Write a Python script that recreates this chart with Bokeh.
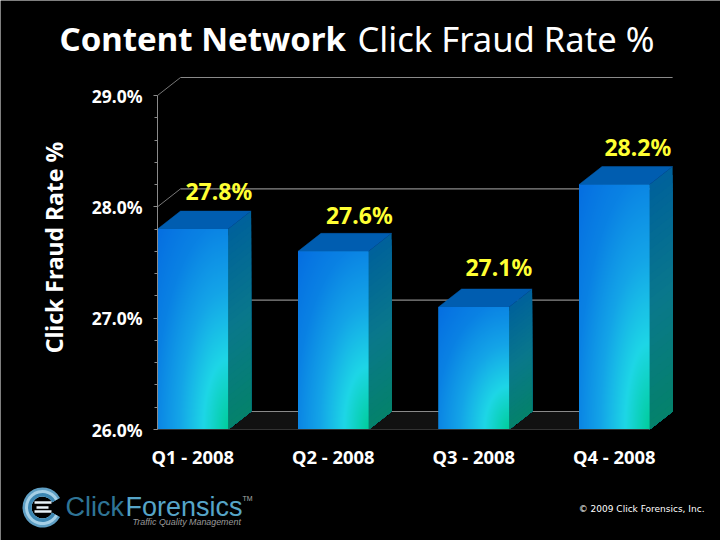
import numpy as np
from bokeh.plotting import figure
from bokeh.models import LinearAxis, FixedTicker, PrintfTickFormatter
from bokeh.core.properties import value
from bokeh.embed import file_html
from bokeh.resources import INLINE

# ---- chart data ----
categories = ["Q1 - 2008", "Q2 - 2008", "Q3 - 2008", "Q4 - 2008"]
rates = [27.8, 27.6, 27.1, 28.2]
rate_labels = ["27.8%", "27.6%", "27.1%", "28.2%"]
major_ticks = [26, 27, 28, 29]
minor_ticks = [26.2, 26.4, 26.6, 26.8, 27.2, 27.4, 27.6, 27.8, 28.2, 28.4, 28.6, 28.8]

# ---- geometry: one unit of x is 140.5 px, one unit of y is 111.33 px ----
PX, PY = 140.5, 111.33
def X(px): return (px - 192.3) / PX
def Y(py): return 26 + (429 - py) / PY
HALF = 35.3 / PX
DX, DY = 23 / PX, 18 / PY
idx = list(range(len(categories)))
FONT = "Noto Sans"
label_nudge_x = [0, 0, -1, -2.5]
label_nudge_y = [38, 36, 40, 38]

p = figure(width=720, height=540, output_backend="svg", toolbar_location=None,
           x_range=(X(0), X(720)), y_range=(Y(540), Y(0)),
           x_axis_type=None, y_axis_type=None, min_border=0,
           background_fill_color="#000000", border_fill_color="#000000",
           outline_line_color=None)
p.grid.visible = False

# floor and back wall
xl, xr = -HALF, 3 + HALF
p.patch([xl, xl + DX, xr + DX, xr], [26, 26 + DY, 26 + DY, 26], color="#111111", line_color=None)
p.segment([xl + DX] * 4, [v + DY for v in major_ticks], [xr + DX] * 4, [v + DY for v in major_ticks],
          line_color="#8a8a8a", line_width=1.2)
p.segment([xl] * 4, major_ticks, [xl + DX] * 4, [v + DY for v in major_ticks],
          line_color="#777777", line_width=1)

# axes, fixed at the chart's origin
yaxis = LinearAxis(fixed_location=xl, bounds=(26, 29),
                   ticker=FixedTicker(ticks=major_ticks, minor_ticks=minor_ticks),
                   formatter=PrintfTickFormatter(format="%.1f%%"))
yaxis.axis_line_color = "#8a8a8a"
yaxis.major_tick_line_color = "#8a8a8a"
yaxis.minor_tick_line_color = "#8a8a8a"
yaxis.major_tick_in = yaxis.minor_tick_in = 0
yaxis.major_tick_out = 4
yaxis.minor_tick_out = 3
yaxis.major_label_standoff = 11
yaxis.major_label_text_color = "#ffffff"
yaxis.major_label_text_font = FONT
yaxis.major_label_text_font_style = "bold"
yaxis.major_label_text_font_size = "17.5px"
p.add_layout(yaxis, "left")

xaxis = LinearAxis(fixed_location=26, bounds=(xl, xr),
                   ticker=FixedTicker(ticks=idx),
                   major_label_overrides={i: c for i, c in zip(idx, categories)})
xaxis.axis_line_color = "#333333"
xaxis.major_tick_line_color = None
xaxis.minor_tick_line_color = None
xaxis.major_label_standoff = 8
xaxis.major_label_text_color = "#ffffff"
xaxis.major_label_text_font = FONT
xaxis.major_label_text_font_style = "bold"
xaxis.major_label_text_font_size = "18.4px"
p.add_layout(xaxis, "below")

# bars
def mix(t, stops):
    ts = [s[0] for s in stops]
    return [np.interp(t, ts, [s[1][k] for s in stops]) for k in range(3)]

FRONT = [(0.0, (0, 205, 155)), (1.0, (30, 215, 230)), (2.0, (20, 165, 232)),
         (3.0, (10, 130, 228)), (4.1, (5, 110, 225))]

for i, v in zip(idx, rates):
    # base bar
    p.vbar(x=[i], top=[v], bottom=26, width=2 * HALF, color="#0f96eb", line_color=None)

    # side face: overlapping strips going down
    n = 30
    ys = np.linspace(v, 26, n + 1)
    xs_side, ys_side, cols = [], [], []
    for k in range(n):
        f = k / (n - 1)
        c = mix(f, [(0, (0, 98, 155)), (0.5, (10, 120, 140)), (1, (5, 130, 108))])
        xs_side.append([i + HALF, i + HALF + DX, i + HALF + DX, i + HALF])
        ys_side.append([ys[k], ys[k] + DY, 26 + DY, 26])
        cols.append("#%02x%02x%02x" % tuple(int(q) for q in c))
    p.patches(xs_side, ys_side, fill_color=cols, line_color=None)

    # top face
    p.patch([i - HALF, i - HALF + DX, i + HALF + DX, i + HALF],
            [v, v + DY, v + DY, v], fill_color="#005db0", line_color="#005db0", line_width=0.5)

    # front face gradient, glowing from the lower right corner (image row 0 is the bottom)
    h = max(2, int(round((v - 26) * PY)))
    w = 71
    uu, vv = np.meshgrid(np.linspace(0, 1, w), np.linspace(1, 0, h))
    d = np.sqrt(((1 - uu) / 0.35) ** 2 + ((1 - vv) / 0.35) ** 2)
    rgb = mix(d, FRONT)
    img = np.zeros((h, w), dtype=np.uint32)
    view = img.view(dtype=np.uint8).reshape((h, w, 4))
    for k in range(3):
        view[:, :, k] = rgb[k].astype(np.uint8)
    view[:, :, 3] = 255
    p.image_rgba(image=[img], x=i - HALF, y=26, dw=2 * HALF, dh=v - 26)

# value labels
p.text(x=[i + 0.185 + nx / PX for i, nx in zip(idx, label_nudge_x)],
       y=[v + ny / PY for v, ny in zip(rates, label_nudge_y)], text=rate_labels,
       text_color="#ffff33", text_font=value(FONT), text_font_style="bold",
       text_font_size="23px", text_align="center", text_baseline="middle")

def txt(px, py, s, size, color="#ffffff", style="normal", font=FONT, align="left", angle=0):
    p.text(x=[X(px)], y=[Y(py)], text=[s], text_color=color, text_font=value(font),
           text_font_style=style, text_font_size=size, text_align=align,
           text_baseline="middle", angle=angle)

# titles
txt(59, 38, "Content Network", "33px", style="bold")
txt(357, 38, "Click Fraud Rate %", "34.6px")
txt(53, 247, "Click Fraud Rate %", "23px", style="bold", align="center", angle=np.pi / 2)

# logo
cx, cy = X(42), Y(507)
for r_out, col in [(20, "#5f9fc4"), (17.5, "#a5cfe6"), (14.5, "#3c86b2")]:
    p.annular_wedge(x=[cx], y=[cy], inner_radius=11, outer_radius=r_out, inner_radius_units="screen",
                    outer_radius_units="screen", start_angle=0.5, end_angle=2 * np.pi - 0.5,
                    fill_color=col, line_color=None)
p.segment([X(34), X(34), X(36)], [Y(502), Y(511), Y(507)], [X(51), X(51), X(48)], [Y(502), Y(511), Y(507)],
          line_color="#e8f2f8", line_width=2.5)
txt(65, 506, "Click", "27px", color="#2f7496", font="Liberation Sans")
txt(125, 506, "Forensics", "27px", color="#56a5c8", font="Liberation Sans")
txt(242, 498, "TM", "7px", color="#aaaaaa", font="Liberation Sans")
txt(132, 521, "Traffic Quality Management", "8.9px", color="#9a9a9a", style="italic", font="Liberation Sans")
txt(704, 508, "\u00a9 2009 Click Forensics, Inc.", "9px", align="right", font="DejaVu Sans")

open("out.html", "w").write(file_html(p, INLINE))
